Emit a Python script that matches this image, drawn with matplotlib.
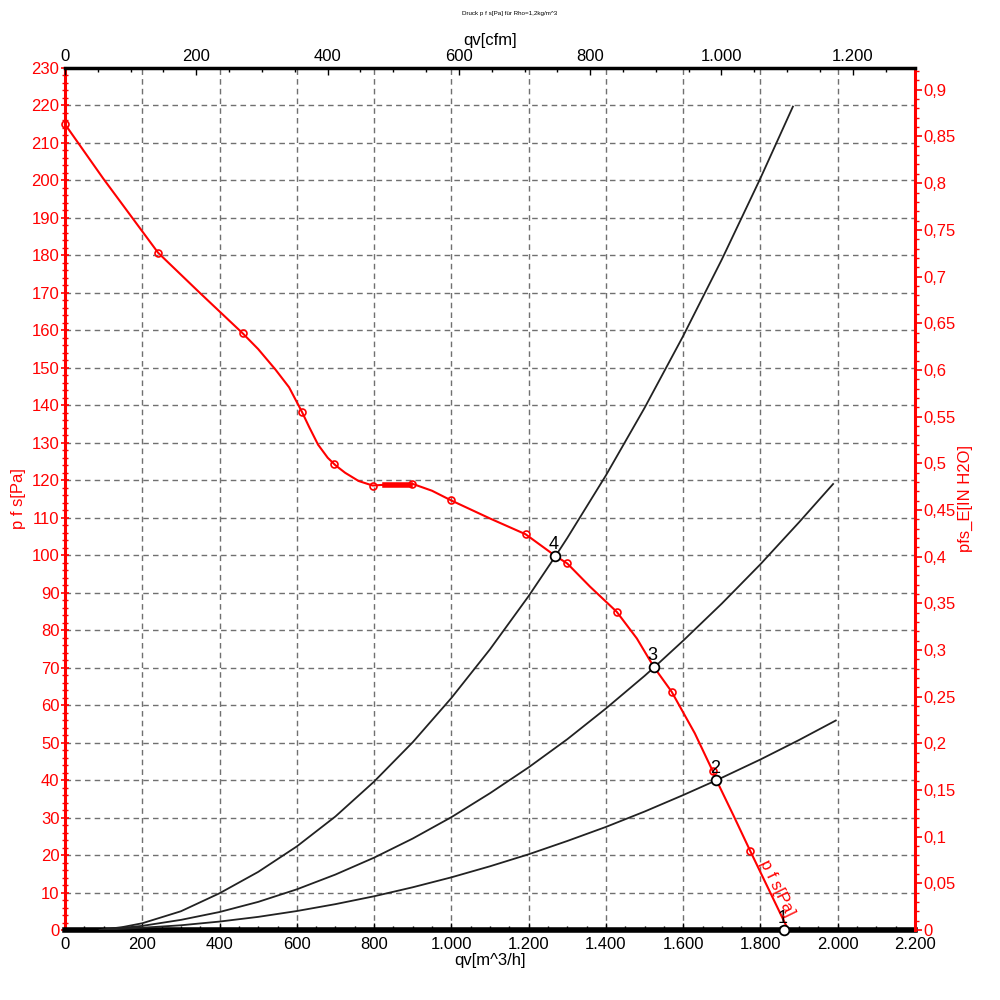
import matplotlib
matplotlib.use("Agg")
import matplotlib.pyplot as plt
from matplotlib.ticker import MultipleLocator, FuncFormatter

plt.rcParams["font.family"] = ["Liberation Sans", "DejaVu Sans"]

# Fan curve p f s [Pa] over qv [m^3/h]
curve_q = [0, 99, 241, 349, 460, 500, 545, 580, 613, 632, 655, 680, 700, 725,
           760, 796, 828, 893, 898, 950, 998, 1100, 1192, 1268, 1300, 1359, 1428,
           1480, 1524, 1570, 1630, 1676, 1686, 1730, 1773, 1872]
curve_p = [215, 200.5, 180.7, 170, 159.2, 155, 149.5, 144.8, 138.3, 134.2, 129.5,
           126, 124, 122, 119.8, 118.6, 118.8, 118.8, 119.1, 117.2, 114.7, 109.8,
           105.6, 99.9, 97.8, 91.6, 84.9, 77.8, 70.2, 63.6, 52.5, 42.5, 40, 30.6,
           21.2, 0]

# measured points on the fan curve
marker_q = [0, 241, 460, 613, 695, 796, 898, 998, 1192, 1300, 1428, 1570, 1676, 1773]
marker_p = [215, 180.7, 159.2, 138.3, 124.4, 118.6, 119.1, 114.7, 105.6, 97.8,
            84.9, 63.6, 42.5, 21.2]

# flat section of the curve
flat_q = [828, 893]
flat_p = [118.8, 118.8]

# system curves 2, 3, 4
sys_q = {
    "2": [90, 200, 300, 400, 500, 600, 700, 800, 900, 1000, 1100, 1200, 1300,
          1400, 1500, 1600, 1687, 1800, 1900, 1995],
    "3": [90, 200, 300, 400, 500, 600, 700, 800, 900, 1000, 1100, 1200, 1300,
          1400, 1500, 1524, 1600, 1700, 1800, 1900, 1988],
    "4": [90, 150, 200, 300, 400, 500, 600, 700, 800, 900, 1000, 1100, 1200,
          1271, 1300, 1400, 1500, 1600, 1700, 1800, 1884],
}
sys_p = {
    "2": [0, 0.6, 1.26, 2.25, 3.5, 5.06, 6.9, 9.0, 11.4, 14.05, 17.0, 20.2, 23.75,
          27.5, 31.6, 36.0, 40.0, 45.5, 50.7, 55.9],
    "3": [0, 1.1, 2.7, 4.8, 7.5, 10.85, 14.8, 19.3, 24.4, 30.1, 36.5, 43.4, 50.9,
          59.1, 67.8, 70.0, 77.2, 87.1, 97.6, 108.8, 119.0],
    "4": [0, 0.8, 1.8, 5.0, 9.8, 15.5, 22.3, 30.3, 39.6, 50.1, 61.9, 74.9, 89.1,
          100.0, 104.6, 121.3, 139.3, 158.5, 178.9, 200.6, 219.7],
}

# operating points
op_labels = ["1", "2", "3", "4"]
op_q = [1861, 1686, 1524, 1268]
op_p = [0, 40, 70.2, 99.9]

RED = "#ff0000"
PA_PER_INH2O = 249.0889
M3H_PER_CFM = 1.699


def dot_thousands(v, pos):
    return f"{int(round(v)):,}".replace(",", ".")


def comma_decimal(v, pos):
    s = f"{v:.2f}".rstrip("0").rstrip(".")
    return s.replace(".", ",")


fig = plt.figure(figsize=(10, 10), dpi=100, facecolor="white")
ax = fig.add_axes([0.065, 0.07, 0.85, 0.862])

xmax, ymax = 2200, 230
ax.set_xlim(0, xmax)
ax.set_ylim(0, ymax)

ax.grid(True, color="#707070", linestyle=(0, (4, 3)), linewidth=1)
ax.set_axisbelow(True)

for key in ["2", "3", "4"]:
    ax.plot(sys_q[key], sys_p[key], color="#222222", lw=1.3, zorder=3)

ax.plot(curve_q, curve_p, color=RED, lw=1.5, zorder=4, clip_on=False)
ax.plot(flat_q, flat_p, color=RED, lw=4, zorder=4)
ax.plot(marker_q, marker_p, ls="none", marker="o", ms=5, mfc="none",
        mec=RED, mew=1.2, zorder=5, clip_on=False)

ax.plot(op_q, op_p, ls="none", marker="o", ms=7, mfc="white", mec="black",
        mew=1.3, zorder=6, clip_on=False)
for lab, q, p in zip(op_labels, op_q, op_p):
    ax.annotate(lab, (q, p), xytext=(-1, 2), textcoords="offset points",
                ha="center", va="bottom", fontsize=13, color="black", zorder=7)

ax.text(1808, 18.5, "p f s[Pa]", color=RED, fontsize=12, rotation=-64,
        rotation_mode="anchor", ha="left", va="center", zorder=7)

# left / bottom axes
ax.xaxis.set_major_locator(MultipleLocator(200))
ax.xaxis.set_minor_locator(MultipleLocator(50))
ax.xaxis.set_major_formatter(FuncFormatter(dot_thousands))
ax.yaxis.set_major_locator(MultipleLocator(10))
ax.yaxis.set_minor_locator(MultipleLocator(2))
ax.tick_params(axis="x", which="both", direction="in", colors="black",
               labelsize=12, pad=5)
ax.tick_params(axis="x", which="major", length=5, width=1)
ax.tick_params(axis="x", which="minor", length=3, width=1)
ax.tick_params(axis="y", which="both", direction="inout", colors=RED,
               labelsize=12, pad=1)
ax.tick_params(axis="y", which="major", length=6, width=1.2)
ax.tick_params(axis="y", which="minor", length=4, width=1)

ax.spines["left"].set_color(RED)
ax.spines["left"].set_linewidth(2.2)
ax.spines["bottom"].set_color("black")
ax.spines["bottom"].set_linewidth(4)
ax.spines["right"].set_visible(False)
ax.spines["top"].set_visible(False)

ax.set_ylabel("p f s[Pa]", color=RED, fontsize=12, labelpad=4)
ax.set_xlabel("qv[m^3/h]", fontsize=12, labelpad=1)

# right axis in IN H2O
axr = ax.twinx()
axr.set_ylim(0, ymax / PA_PER_INH2O)
axr.yaxis.set_major_locator(MultipleLocator(0.05))
axr.yaxis.set_minor_locator(MultipleLocator(0.01))
axr.yaxis.set_major_formatter(FuncFormatter(comma_decimal))
axr.tick_params(axis="y", which="both", direction="out", colors=RED,
                labelsize=12, pad=1)
axr.tick_params(axis="y", which="major", length=5, width=1.2)
axr.tick_params(axis="y", which="minor", length=3, width=1)
axr.spines["right"].set_color(RED)
axr.spines["right"].set_linewidth(2.2)
for s in ["left", "top", "bottom"]:
    axr.spines[s].set_visible(False)
axr.text(1.059, 0.5, "pfs_E[IN H2O]", transform=axr.transAxes, rotation=90,
         ha="center", va="center", color=RED, fontsize=12)

# top axis in cfm
axt = ax.twiny()
axt.set_xlim(0, xmax / M3H_PER_CFM)
axt.xaxis.set_major_locator(MultipleLocator(200))
axt.xaxis.set_minor_locator(MultipleLocator(50))
axt.xaxis.set_major_formatter(FuncFormatter(dot_thousands))
axt.tick_params(axis="x", which="both", direction="in", colors="black",
                labelsize=12, pad=3)
axt.tick_params(axis="x", which="major", length=5, width=1)
axt.tick_params(axis="x", which="minor", length=3, width=1)
axt.spines["top"].set_color("black")
axt.spines["top"].set_linewidth(2.5)
for s in ["left", "right", "bottom"]:
    axt.spines[s].set_visible(False)
axt.set_xlabel("qv[cfm]", fontsize=12, labelpad=3)

fig.text(0.51, 0.986, "Druck p f s[Pa] für Rho=1,2kg/m^3", ha="center",
         va="center", fontsize=4.5)

fig.savefig("out.png", dpi=100, facecolor="white")
